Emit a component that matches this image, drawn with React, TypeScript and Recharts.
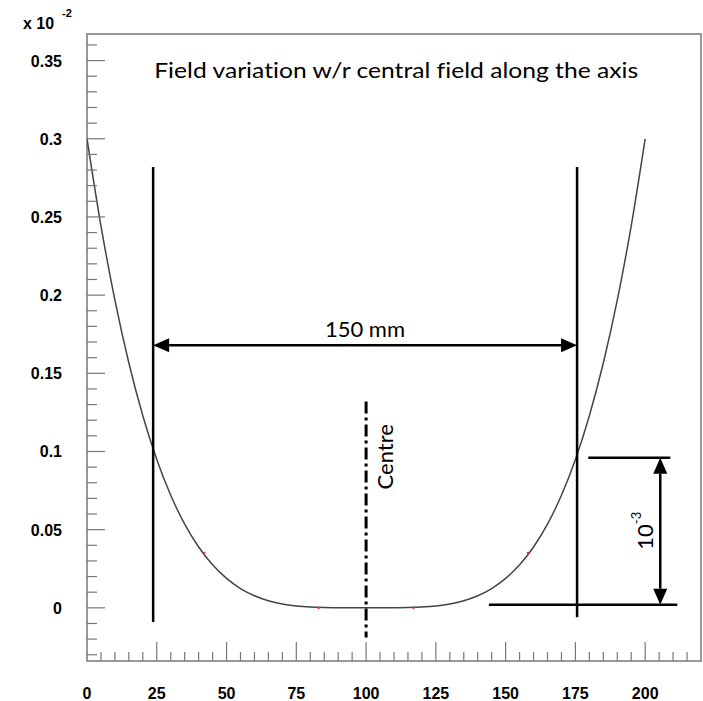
import {
  ComposedChart,
  Line,
  Scatter,
  XAxis,
  YAxis,
  ReferenceLine,
  ReferenceArea,
  ReferenceDot,
} from 'recharts'

// field deviation along the axis (x in mm, value in units of 10^-2)
const positions = [
  0, 5, 10, 15, 20, 25, 30, 35, 40, 45, 50, 55, 60, 65, 70, 75, 80, 85, 90, 95, 100,
  105, 110, 115, 120, 125, 130, 135, 140, 145, 150, 155, 160, 165, 170, 175, 180, 185, 190, 195, 200,
]
const deviation = [
  0.3, 0.2443, 0.1968, 0.1566, 0.1229, 0.0949, 0.072, 0.0535, 0.0389, 0.0275, 0.0188,
  0.0123, 0.0077, 0.0045, 0.0024, 0.0012, 0.0005, 0.00015, 0.00003, 0, 0,
  0, 0.00003, 0.00015, 0.0005, 0.0012, 0.0024, 0.0045, 0.0077, 0.0123, 0.0188,
  0.0275, 0.0389, 0.0535, 0.072, 0.0949, 0.1229, 0.1566, 0.1968, 0.2443, 0.3,
]

// little red markers sitting on the curve
const markX = [42, 83, 117, 158]
const markY = [0.035, 0, 0, 0.035]

const xLabels = [0, 25, 50, 75, 100, 125, 150, 175, 200]
const yLabels = ['0', '0.05', '0.1', '0.15', '0.2', '0.25', '0.3', '0.35']

// annotation geometry, in data units
const spanLeft = 23.7
const spanRight = 175.6
const spanTop = 0.282
const spanArrowY = 0.168
const centreX = 100
const stepTop = 0.096
const stepBottom = 0.002
const stepArrowX = 205.4

const X_MAX = 220
const Y_MIN = -0.034
const Y_MAX = 0.367

const xTicks: number[] = []
for (let i = 0; i <= X_MAX; i += 5) xTicks.push(i)
const yTicks: number[] = []
for (let i = -3; i <= 36; i++) yTicks.push(i / 100)

const data = positions.map((x, i) => ({ x, y: deviation[i] }))
const marks = markX.map((x, i) => ({ x, y: markY[i] }))

const AXIS_FONT = 'Liberation Sans, Arial, sans-serif'
const NOTE_FONT = 'Lato, sans-serif'
const noLig = { fontVariantLigatures: 'none' as const }

function XTick(props: any) {
  const { x, y, payload } = props
  const v = payload.value
  if (v === X_MAX) return null
  const major = v % 25 === 0
  return (
    <g>
      {v !== 0 && <line x1={x} y1={y} x2={x} y2={y - (major ? 19 : 9)} stroke="#777" strokeWidth={1.2} />}
      {major && xLabels.includes(v) && (
        <text x={x} y={y + 38} textAnchor="middle" fontFamily={AXIS_FONT} fontWeight="bold" fontSize={16} fill="#000">
          {v}
        </text>
      )}
    </g>
  )
}

function YTick(props: any) {
  const { x, y, payload } = props
  const k = Math.round(payload.value * 100)
  const major = k % 5 === 0
  const label = major && k >= 0 ? yLabels[k / 5] : null
  return (
    <g>
      <line x1={x} y1={y} x2={x + (major ? 18 : 10)} y2={y} stroke="#777" strokeWidth={1.2} />
      {label && (
        <text x={x - 25} y={y + 6} textAnchor="end" fontFamily={AXIS_FONT} fontWeight="bold" fontSize={16} fill="#000">
          {label}
        </text>
      )}
    </g>
  )
}

function ArrowShape(props: any) {
  const { x1, y1, x2, y2 } = props
  const dx = x2 - x1
  const dy = y2 - y1
  const len = Math.hypot(dx, dy) || 1
  const ux = dx / len
  const uy = dy / len
  const nx = -uy
  const ny = ux
  const h = 16
  const w = 7
  const head = (tx: number, ty: number, sx: number, sy: number) =>
    `${tx},${ty} ${tx - sx * h + nx * w},${ty - sy * h + ny * w} ${tx - sx * h - nx * w},${ty - sy * h - ny * w}`
  return (
    <g>
      <line x1={x1 + ux * h} y1={y1 + uy * h} x2={x2 - ux * h} y2={y2 - uy * h} stroke="#000" strokeWidth={2.5} />
      <polygon points={head(x2, y2, ux, uy)} fill="#000" />
      <polygon points={head(x1, y1, -ux, -uy)} fill="#000" />
    </g>
  )
}

function ScaleLabel() {
  return (
    <g fontFamily={AXIS_FONT} fontWeight="bold" fill="#000">
      <text x={23} y={29} fontSize={16}>
        x 10
      </text>
      <text x={62} y={17} fontSize={11}>
        -2
      </text>
    </g>
  )
}

export default function App() {
  return (
    <div style={{ position: 'absolute', left: 0, top: 0, background: '#fff' }}>
      <ComposedChart width={703} height={701} data={data} margin={{ top: 34, right: 2, bottom: 0, left: 0 }}>
        <XAxis
          type="number"
          dataKey="x"
          domain={[0, X_MAX]}
          ticks={xTicks}
          interval={0}
          allowDataOverflow
          height={40}
          tickSize={0}
          tickMargin={0}
          axisLine={false}
          tickLine={false}
          tick={<XTick />}
        />
        <YAxis
          type="number"
          domain={[Y_MIN, Y_MAX]}
          ticks={yTicks}
          interval={0}
          allowDataOverflow
          width={87}
          tickSize={0}
          tickMargin={0}
          axisLine={false}
          tickLine={false}
          tick={<YTick />}
          label={<ScaleLabel />}
        />
        <ReferenceArea
          x1={0}
          x2={X_MAX}
          y1={Y_MIN}
          y2={Y_MAX}
          fill="none"
          stroke="#777"
          strokeWidth={1.5}
          ifOverflow="visible"
        />
        <Line
          type="monotone"
          dataKey="y"
          stroke="#444"
          strokeWidth={1.5}
          dot={false}
          isAnimationActive={false}
        />
        <Scatter
          data={marks}
          dataKey="y"
          fill="#e33"
          shape={(p: any) => <circle cx={p.cx} cy={p.cy} r={1.3} fill="#e33" />}
          isAnimationActive={false}
        />

        {/* 150 mm span */}
        <ReferenceLine segment={[{ x: spanLeft, y: spanTop }, { x: spanLeft, y: -0.009 }]} stroke="#000" strokeWidth={2.5} ifOverflow="visible" />
        <ReferenceLine segment={[{ x: spanRight, y: spanTop }, { x: spanRight, y: -0.006 }]} stroke="#000" strokeWidth={2.5} ifOverflow="visible" />
        <ReferenceLine
          segment={[{ x: spanLeft, y: spanArrowY }, { x: spanRight, y: spanArrowY }]}
          shape={<ArrowShape />}
          ifOverflow="visible"
        />

        {/* centre line */}
        <ReferenceLine
          segment={[{ x: centreX, y: 0.132 }, { x: centreX, y: -0.019 }]}
          stroke="#000"
          strokeWidth={3}
          strokeDasharray="12 4 3 4"
          ifOverflow="visible"
        />

        {/* 10^-3 step */}
        <ReferenceLine segment={[{ x: 179.6, y: stepTop }, { x: 209, y: stepTop }]} stroke="#000" strokeWidth={2.5} ifOverflow="visible" />
        <ReferenceLine segment={[{ x: 144, y: stepBottom }, { x: 211.5, y: stepBottom }]} stroke="#000" strokeWidth={2.5} ifOverflow="visible" />
        <ReferenceLine
          segment={[{ x: stepArrowX, y: stepTop }, { x: stepArrowX, y: stepBottom }]}
          shape={<ArrowShape />}
          ifOverflow="visible"
        />

        <ReferenceDot
          x={110.8}
          y={0.339}
          r={0}
          ifOverflow="visible"
          shape={(p: any) => (
            <text
              x={p.cx}
              y={p.cy}
              textAnchor="middle"
              fontFamily={NOTE_FONT}
              fontSize={22}
              fill="#000"
              style={noLig}
              textLength={484}
              lengthAdjust="spacingAndGlyphs"
            >
              Field variation w/r central field along the axis
            </text>
          )}
        />
        <ReferenceDot
          x={99.6}
          y={0.1734}
          r={0}
          ifOverflow="visible"
          shape={(p: any) => (
            <text x={p.cx} y={p.cy} textAnchor="middle" fontFamily={NOTE_FONT} fontSize={22} fill="#000">
              150 mm
            </text>
          )}
        />
        <ReferenceDot
          x={106.6}
          y={0.0966}
          r={0}
          ifOverflow="visible"
          shape={(p: any) => (
            <text
              x={p.cx}
              y={p.cy}
              textAnchor="middle"
              dominantBaseline="central"
              fontFamily={NOTE_FONT}
              fontSize={22}
              fill="#000"
              transform={`rotate(-90 ${p.cx} ${p.cy})`}
            >
              Centre
            </text>
          )}
        />
        <ReferenceDot
          x={199.6}
          y={0.0493}
          r={0}
          ifOverflow="visible"
          shape={(p: any) => (
            <text
              x={p.cx}
              y={p.cy}
              textAnchor="middle"
              dominantBaseline="central"
              fontFamily={NOTE_FONT}
              fontSize={22}
              fill="#000"
              transform={`rotate(-90 ${p.cx} ${p.cy})`}
            >
              10
              <tspan fontSize={13} dy={-8}>
                -3
              </tspan>
            </text>
          )}
        />
      </ComposedChart>
    </div>
  )
}
